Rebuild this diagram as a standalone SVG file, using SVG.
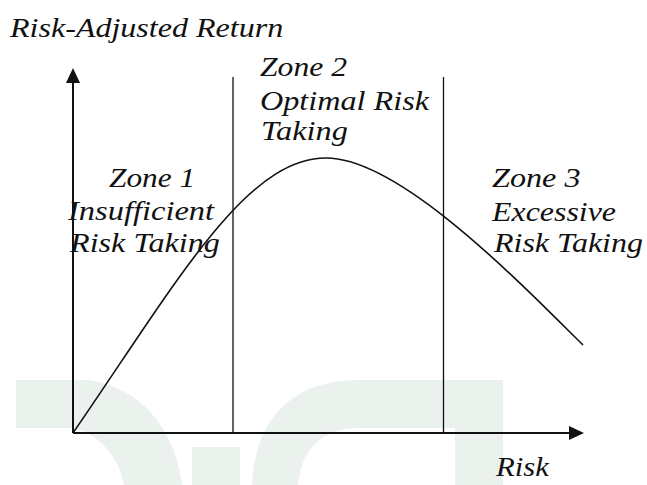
<svg xmlns="http://www.w3.org/2000/svg" width="647" height="485" viewBox="0 0 647 485">
  <defs>
    <style>
      .axis { stroke: #111; stroke-width: 2; fill: none; }
      .zone { stroke: #111; stroke-width: 1.3; fill: none; }
      .curve { stroke: #111; stroke-width: 1.6; fill: none; }
      .wm { fill: #ebf2ee; fill-rule: evenodd; }
      text { font-family: "Liberation Serif", "Times New Roman", serif; font-style: italic; font-size: 28px; fill: #111; }
    </style>
  </defs>
  <rect width="647" height="485" fill="#ffffff"/>
  <g id="watermark">
    <path class="wm" d="M16,380 H85 C140,385 176,430 182,485 H16 Z M16,428 H70 C100,432 120,460 124,485 H16 Z"/>
    <rect class="wm" x="192" y="447" width="48" height="38"/>
    <path class="wm" d="M252,485 C255,420 290,380 360,380 H503 V485 Z M298,485 C302,450 320,428 360,428 H455 V485 Z"/>
  </g>
  <g id="connectors">
    <line class="axis" x1="73" y1="433" x2="73" y2="80"/>
    <polygon points="73,68 66,83 80,83" fill="#111"/>
    <line class="axis" x1="73" y1="433" x2="571" y2="433"/>
    <polygon points="584,433 569,426 569,440" fill="#111"/>
    <line class="zone" x1="233" y1="77" x2="233" y2="433"/>
    <line class="zone" x1="443.5" y1="77" x2="443.5" y2="433"/>
    <path id="curve" class="curve" d="M73,433 C175,285 245,158 326,158 C400,158 520,283 583,345"/>
  </g>
  <g id="y-label">
    <text transform="translate(10,37) scale(1.145,1)">Risk-Adjusted Return</text>
  </g>
  <g id="x-label">
    <text transform="translate(496,476) scale(1.1,1)">Risk</text>
  </g>
  <g id="zone1">
    <text transform="translate(109,187) scale(1.12,1)">Zone 1</text>
    <text transform="translate(68,220) scale(1.16,1)">Insufficient</text>
    <text transform="translate(70,252) scale(1.15,1)">Risk Taking</text>
  </g>
  <g id="zone2">
    <text transform="translate(260,76) scale(1.13,1)">Zone 2</text>
    <text transform="translate(260,109.5) scale(1.15,1)">Optimal Risk</text>
    <text transform="translate(261,139.5) scale(1.155,1)">Taking</text>
  </g>
  <g id="zone3">
    <text transform="translate(492,187) scale(1.15,1)">Zone 3</text>
    <text transform="translate(492,221) scale(1.14,1)">Excessive</text>
    <text transform="translate(494,252) scale(1.143,1)">Risk Taking</text>
  </g>
</svg>
